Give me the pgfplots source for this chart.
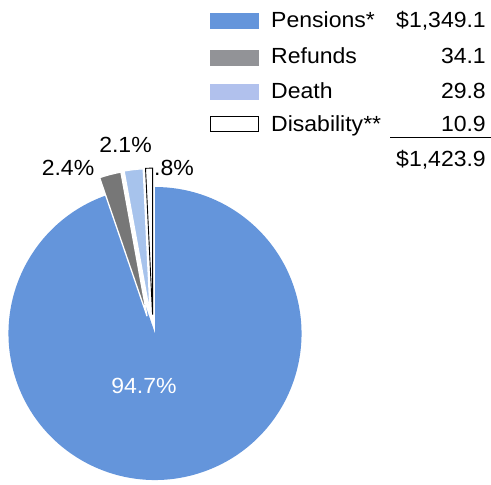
\documentclass[border=0pt]{standalone}
\usepackage{fontspec}
\setmainfont{Liberation Sans}[FakeStretch=1.05]
\usepackage{pgfplots}
\usepackage{pgfplotstable}
\pgfplotsset{compat=1.18}

\definecolor{pieblue}{HTML}{6495DB}
\definecolor{piegray}{HTML}{777777}
\definecolor{pielight}{HTML}{A7C3EC}
\definecolor{leggray}{HTML}{929397}
\definecolor{leglight}{HTML}{B1C1ED}

% amounts in $ millions
\pgfplotstableread{
name value
Pensions 1349.1
Refunds 34.1
Death 29.8
Disability 10.9
}\datatable

\pgfplotstablegetelem{0}{value}\of\datatable \let\vP\pgfplotsretval
\pgfplotstablegetelem{1}{value}\of\datatable \let\vR\pgfplotsretval
\pgfplotstablegetelem{2}{value}\of\datatable \let\vD\pgfplotsretval
\pgfplotstablegetelem{3}{value}\of\datatable \let\vI\pgfplotsretval
\pgfmathsetmacro\tot{\vP+\vR+\vD+\vI}
% slices run counterclockwise from 12 o'clock
\pgfmathsetmacro\aI{90+360*\vI/\tot}
\pgfmathsetmacro\aD{\aI+360*\vD/\tot}
\pgfmathsetmacro\aR{\aD+360*\vR/\tot}
% centre, radius and explode (in px)
\def\cx{155}\def\cy{151.5}\def\rad{146.5}\def\ex{19}
\pgfmathsetmacro\xI{\cx+\ex*cos((90+\aI)/2+6)}\pgfmathsetmacro\yI{\cy+\ex*sin((90+\aI)/2+6)}
\pgfmathsetmacro\xD{\cx+\ex*cos((\aI+\aD)/2+8)}\pgfmathsetmacro\yD{\cy+\ex*sin((\aI+\aD)/2+8)}
\pgfmathsetmacro\xR{\cx+\ex*cos((\aD+\aR)/2+10)}\pgfmathsetmacro\yR{\cy+\ex*sin((\aD+\aR)/2+10)}

\begin{document}
\begin{tikzpicture}
\useasboundingbox (0,0) rectangle (491bp,485bp);
\begin{axis}[
  at={(0,0)}, anchor=origin,
  x=1bp, y=1bp, xmin=0, xmax=491, ymin=0, ymax=485,
  hide axis, clip=false, scale only axis,
]
% pie
\fill[pieblue] (axis cs:\cx,\cy) -- ++(\aR:\rad bp) arc[start angle=\aR, end angle=450, radius=\rad bp] -- cycle;
\filldraw[fill=piegray, draw=white, line width=1.3bp] (axis cs:\xR,\yR) -- ++(\aD:\rad bp) arc[start angle=\aD, end angle=\aR, radius=\rad bp] -- cycle;
\filldraw[fill=pielight, draw=white, line width=1.3bp] (axis cs:\xD,\yD) -- ++(\aI:\rad bp) arc[start angle=\aI, end angle=\aD, radius=\rad bp] -- cycle;
\filldraw[fill=white, draw=black, line width=0.9bp] (axis cs:\xI,\yI) -- ++(90:\rad bp) arc[start angle=90, end angle=\aI, radius=\rad bp] -- cycle;
% slice labels
\tikzset{every node/.style={inner sep=0pt, font=\fontsize{22}{26}\selectfont}}
\node[anchor=base, white] at (axis cs:144,92) {94.7\%};
\node[anchor=base] at (axis cs:68,310) {2.4\%};
\node[anchor=base] at (axis cs:125.5,333) {2.1\%};
\node[anchor=base west] at (axis cs:154,310) {.8\%};
% legend
\fill[pieblue] (axis cs:210,456) rectangle (axis cs:259,472);
\fill[leggray] (axis cs:210,419) rectangle (axis cs:259,435);
\fill[leglight] (axis cs:210,385) rectangle (axis cs:259,401);
\draw[black, line width=0.8bp] (axis cs:210.5,353.5) rectangle (axis cs:258.5,368.5);
\node[anchor=base west] at (axis cs:271,457) {Pensions*};
\node[anchor=base west] at (axis cs:271,421) {Refunds};
\node[anchor=base west] at (axis cs:271,386.5) {Death};
\node[anchor=base west] at (axis cs:271,353.5) {Disability**};
\node[anchor=base east] at (axis cs:486,457) {\$1,349.1};
\node[anchor=base east] at (axis cs:486,421) {34.1};
\node[anchor=base east] at (axis cs:486,386.5) {29.8};
\node[anchor=base east] at (axis cs:486,353.5) {10.9};
\draw[black, line width=0.8bp] (axis cs:390,348) -- (axis cs:491,348);
\node[anchor=base east] at (axis cs:486,319) {\$1,423.9};
\end{axis}
\end{tikzpicture}
\end{document}
